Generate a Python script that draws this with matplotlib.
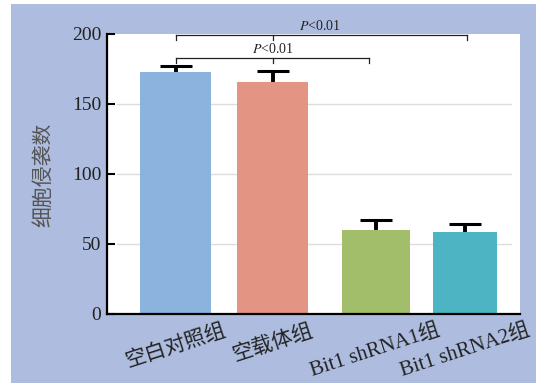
import matplotlib
matplotlib.use("Agg")
import matplotlib.pyplot as plt
from matplotlib.patches import Rectangle

# Data
groups = ["空白对照组", "空载体组", "Bit1 shRNA1组", "Bit1 shRNA2组"]
means = [173.0, 166.0, 60.0, 58.6]
errors = [4.0, 7.5, 7.0, 5.7]
yticks = [0, 50, 100, 150, 200]
sig_label = "$\\mathit{P}$<0.01"

# Layout (x axis measured in pixel-like units across the plot width)
x_pos = [68.5, 165.5, 268.5, 358.0]
widths = [71, 71, 68, 64]
cap_half = 16
colors = ["#8CB2DE", "#E39483", "#A2BE6B", "#4DB4C4"]
bg_color = "#AEBDDF"

plt.rcParams["mathtext.fontset"] = "stix"
serif_cjk = ["Liberation Serif", "Noto Sans CJK SC"]

fig = plt.figure(figsize=(5.36, 3.83), dpi=100)
fig.patch.set_facecolor("white")
fig.patches.append(Rectangle((11 / 536, 0), 1 - 11 / 536, 1 - 4 / 383,
                             transform=fig.transFigure, facecolor=bg_color,
                             edgecolor="none", zorder=-10))

ax = fig.add_axes([107 / 536, (383 - 314) / 383, (520 - 107) / 536, (314 - 34) / 383])
ax.set_facecolor("white")
ax.set_xlim(0, 413)
ax.set_ylim(0, 200)

# light horizontal guides
for v in yticks[1:-1]:
    ax.axhline(v, xmin=0.024, xmax=0.978, color="#DCDCDC", lw=1.0, zorder=0)

ax.bar(x_pos, means, width=widths, color=colors, edgecolor="none", zorder=2)

# upper-only error bars: stem from the bar top, cap at mean + error
tops = [m + e for m, e in zip(means, errors)]
ax.vlines(x_pos, means, tops, color="black", lw=2.8, zorder=3)
ax.hlines(tops, [x - cap_half for x in x_pos], [x + cap_half for x in x_pos],
          color="black", lw=2.2, zorder=3)

# significance brackets
def bracket(x0, xm, x1, y, drop, text_x, text_y):
    kw = dict(color="#222222", lw=0.9, clip_on=False, zorder=4)
    ax.plot([x0, x1], [y, y], **kw)
    for xx in (x0, xm, x1):
        ax.plot([xx, xx], [y, y - drop], **kw)
    ax.text(text_x, text_y, sig_label, ha="center", va="center",
            fontsize=10, color="#222222", family="Liberation Serif", clip_on=False)

bracket(x_pos[0], x_pos[1], 360, 199.4, 3.6, 213, 205.8)
bracket(x_pos[0], x_pos[1], 262, 182.6, 3.6, 165.5, 189.4)

for side in ("top", "right"):
    ax.spines[side].set_visible(False)
for side in ("left", "bottom"):
    ax.spines[side].set_linewidth(1.6)
    ax.spines[side].set_color("black")

ax.set_yticks(yticks)
ax.set_yticklabels([str(t) for t in yticks], family=serif_cjk, fontsize=14, color="#222222")
ax.tick_params(axis="y", direction="in", length=6, width=1.5, pad=4)

ax.set_xticks(x_pos)
ax.set_xticklabels(groups, family=serif_cjk, fontsize=15, color="#222222",
                   rotation=18, ha="center")
ax.tick_params(axis="x", length=0, pad=5)

fig.text(43 / 536, 1 - 175 / 383, "细胞侵袭数", rotation=90, ha="center", va="center",
         fontsize=15, color="#555555", family=["Noto Sans CJK SC", "DejaVu Sans"])

fig.savefig("out.png", dpi=100, facecolor=fig.get_facecolor())
